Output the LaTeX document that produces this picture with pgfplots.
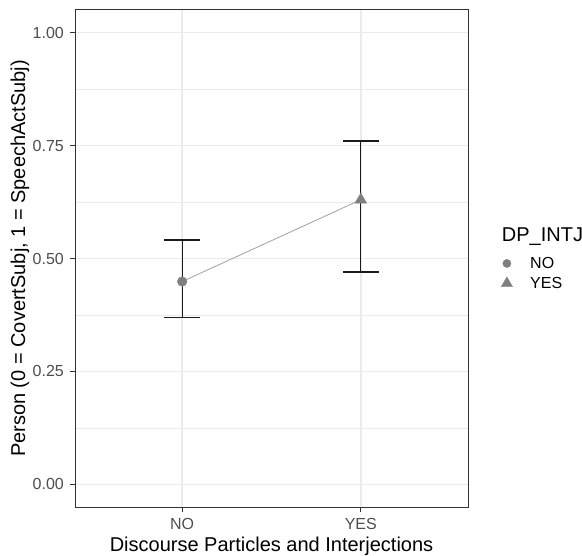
\documentclass[border=0pt]{standalone}
\usepackage{pgfplots}
\pgfplotsset{compat=1.18}
\usepackage{fontspec}
\setmainfont{Liberation Sans}
\definecolor{gridc}{HTML}{EBEBEB}
\definecolor{framec}{HTML}{333333}
\definecolor{ticklab}{HTML}{4D4D4D}
\definecolor{ptc}{HTML}{7F7F7F}
\definecolor{lnc}{HTML}{A0A0A0}
\definecolor{ebc}{HTML}{1A1A1A}
\begin{document}
\begin{tikzpicture}
\path[use as bounding box] (-75bp,-49bp) rectangle (507bp,507bp);
\begin{axis}[
  at={(0,0)}, anchor=south west,
  scale only axis, width=393bp, height=497bp,
  xmin=0.4, xmax=2.6, ymin=-0.05, ymax=1.05,
  xtick={1,2}, xticklabels={NO,YES},
  ytick={0,0.25,0.5,0.75,1}, yticklabels={0.00,0.25,0.50,0.75,1.00},
  minor ytick={0.125,0.375,0.625,0.875},
  grid=both,
  major grid style={gridc, line width=1.7bp},
  minor grid style={gridc, line width=0.8bp},
  tick pos=left, tick align=outside,
  major tick length=5bp, minor tick length=0bp,
  every tick/.style={framec, line width=1bp},
  axis line style={framec, line width=1bp},
  ticklabel style={font=\fontsize{16bp}{19bp}\selectfont, text=ticklab},
  yticklabel style={inner sep=0pt, xshift=-6bp},
  xticklabel style={inner sep=0pt, yshift=-6bp},
  xlabel={Discourse Particles and Interjections},
  ylabel={Person (0 = CovertSubj, 1 = SpeechActSubj)},
  label style={font=\fontsize{20bp}{24bp}\selectfont, text=black, inner sep=0pt},
  xlabel style={at={(axis description cs:0.5,-0.0899)}, anchor=base},
  ylabel style={at={(axis description cs:-0.1272,0.5)}, anchor=base},
  clip=false,
  legend style={draw=none, fill=none, at={(1.0832,0.5105)}, anchor=north west,
    inner sep=0pt, column sep=15.3bp, row sep=0pt,
    nodes={inner sep=2bp, text height=13bp, text depth=3bp,
      font=\fontsize{16bp}{19bp}\selectfont, text=black}},
  legend cell align=left,
  legend image code/.code={\path[draw=none, fill=none] (-6bp,-6bp) rectangle (6bp,6bp);
    \draw[#1] plot coordinates {(0bp,0bp)};},
]
% error bars
\addplot[forget plot, only marks, mark=none, ebc,
  error bars/.cd, y dir=both, y explicit,
  error bar style={ebc, line width=1.2bp},
  error mark options={ebc, line width=1.2bp, mark size=17.9bp, rotate=90}]
  coordinates {(1,0.449) += (0,0.092) -= (0,0.079)
               (2,0.630) += (0,0.130) -= (0,0.160)};
% connecting line
\addplot[forget plot, no marks, lnc, line width=0.8bp]
  coordinates {(1,0.449) (2,0.630)};
% points
\addplot[forget plot, only marks, mark=*, mark size=4.8bp, color=ptc,
  mark options={solid, fill=ptc, draw=ptc}]
  coordinates {(1,0.449)};
\addplot[forget plot, only marks, mark=triangle*, mark size=6.7bp, color=ptc,
  mark options={solid, fill=ptc, draw=ptc}]
  coordinates {(2,0.630)};
\addlegendimage{color=ptc, mark=*, mark size=4.1bp, mark options={solid, fill=ptc, draw=ptc}}
\addlegendentry{NO}
\addlegendimage{color=ptc, mark=triangle*, mark size=6.5bp, mark options={solid, fill=ptc, draw=ptc}}
\addlegendentry{YES}
\node[anchor=base west, inner sep=0pt, font=\fontsize{20bp}{24bp}\selectfont, text=black]
  at (rel axis cs:1.0858,0.5338) {DP\_INTJ};
\end{axis}
\end{tikzpicture}
\end{document}
